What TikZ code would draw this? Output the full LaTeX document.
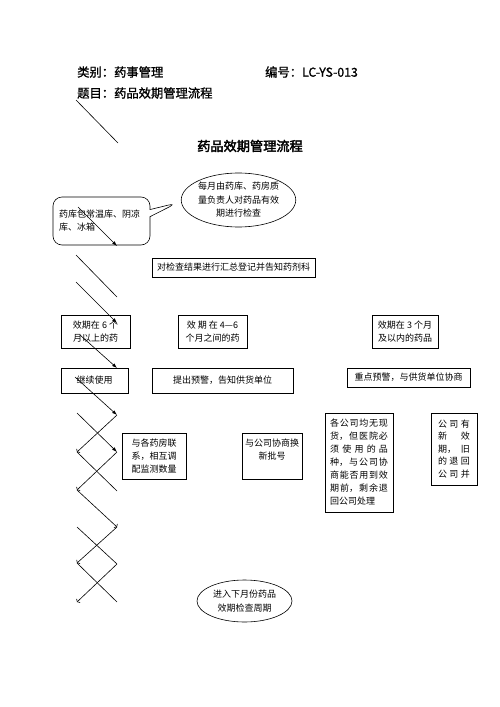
\documentclass[tikz,border=0pt]{standalone}
\usepackage{fontspec}
\newfontfamily\cjk{Noto Sans CJK SC}
\newfontfamily\cjkhead{Noto Sans CJK SC}[FakeBold=1.2]
\newfontfamily\cjkbold{Noto Sans CJK SC}[FakeBold=2.5]
\XeTeXlinebreaklocale "zh"
\XeTeXlinebreakskip=0pt plus 5pt
\usetikzlibrary{arrows.meta,shapes.geometric,shapes.callouts}

\begin{document}
\begin{tikzpicture}[x=1pt,y=-1pt]

    \tikzset{
      box/.style={
        draw,
        line width=0.6pt,
        inner sep=2pt,
        align=center,
        font=\cjk\fontsize{9}{13}\selectfont,
      },
      oval/.style={
        ellipse,
        draw,
        line width=0.6pt,
        inner sep=0pt,
        align=center,
        font=\cjk\fontsize{9}{13.5}\selectfont,
      },
      head/.style={anchor=west, inner sep=0pt, font=\cjkhead\fontsize{12.3}{15}\selectfont},
      stray/.style={line width=0.6pt},
      link/.style={line width=0.6pt, -{Latex[length=5pt,width=3.5pt]}},
      tick/.style={line width=0.6pt, -{Straight Barb[length=1.5pt,width=5pt]}},
    }
    \useasboundingbox (0,0) rectangle (500,707);

	\node[head] (kind) at (77,72) {类别：药事管理};
	\node[head] (code) at (265,72) {编号：LC-YS-013};
	\node[head] (topic) at (77,93) {题目：药品效期管理流程};
	\node[inner sep=0pt, font=\cjkbold\fontsize{13.2}{15}\selectfont] (title) at (250,146) {药品效期管理流程};
	\coordinate (h1) at (76,100);
	\coordinate (h2) at (118,143);
	\draw[stray] (h1)--(h2);

	\node[box, rectangle callout, rounded corners=9pt, callout absolute pointer={(177,203)}, minimum width=97pt, minimum height=48pt, text width=85pt, align=left] (store) at (101.5,221) {药库包常温库、阴凉\\库、冰箱};
	\node[oval, minimum width=113pt, minimum height=54pt] (check) at (238.5,200) {每月由药库、药房质\\量负责人对药品有效\\期进行检查};
	\node[box, minimum width=163pt, minimum height=19pt] (sum) at (233.5,267.5) {对检查结果进行汇总登记并告知药剂科};

	\node[box, minimum width=69pt, minimum height=33pt] (six) at (95.5,331.5) {效期在 6 个\\月以上的药};
	\node[box, minimum width=69pt, minimum height=33pt] (mid) at (212.5,331.5) {效\ 期\ 在\ 4—6\\个月之间的药};
	\node[box, minimum width=66pt, minimum height=33pt] (three) at (405,331.5) {效期在 3 个月\\及以内的药品};

	\node[box, minimum width=67pt, minimum height=25pt] (keep) at (94.5,380.5) {继续使用};
	\node[box, minimum width=141pt, minimum height=25pt] (warn) at (222.5,380.5) {提出预警，告知供货单位};
	\node[box, minimum width=123pt, minimum height=19pt] (alert) at (408.5,377.5) {重点预警，与供货单位协商};

	\node[box, minimum width=64pt, minimum height=46pt] (swap) at (154,456) {与各药房联\\系，相互调\\配监测数量};
	\node[box, minimum width=60pt, minimum height=46pt] (batch) at (272,456) {与公司协商换\\新批号\\\mbox{}};
	\node[box, minimum width=68pt, minimum height=99pt, text width=58pt, align=justify] (rest) at (359,462.5) {各公司均无现\linebreak 货，但医院必\linebreak 须使用的品\linebreak 种，与公司协\linebreak 商能否用到效\linebreak 期前，剩余退\linebreak 回公司处理};
	\node[box, minimum width=46pt, minimum height=72pt, text width=32pt, align=justify, font=\cjk\fontsize{9}{12.5}\selectfont] (back) at (454,449) {公司有\linebreak 新效\linebreak 期，旧\linebreak 的退回\linebreak 公\hfill 司\hfill 并};

	\node[oval, minimum width=95pt, minimum height=42pt] (next) at (244.5,601) {进入下月份药品\\效期检查周期};

	\coordinate (s0) at (78,207);
	\coordinate (r1) at (117,246);
	\coordinate (l2) at (76,255);
	\coordinate (r2) at (117,297);
	\coordinate (l3) at (76,282);
	\coordinate (r3) at (117,323);
	\coordinate (l4) at (80,335);
	\coordinate (r4) at (117,368);
	\coordinate (l5) at (75,377);
	\coordinate (r5) at (117,415);
	\coordinate (l6) at (77,413);
	\coordinate (r6) at (117,452);
	\coordinate (l7) at (77,452);
	\coordinate (r7) at (117,491);
	\coordinate (l8) at (77,490);
	\coordinate (r8) at (117,527);
	\coordinate (l9) at (77,527);
	\coordinate (r9) at (117,564);
	\coordinate (l10) at (77,563);
	\coordinate (r10) at (117,602);
	\coordinate (l11) at (77,602);
	\draw[link] (s0)--(r1);
	\draw[stray] (l2)--(r2);
	\draw[link] (l3)--(r3);
	\draw[link] (l4)--(r4);
	\draw[link] (l5)--(r5);
	\draw[link] (l6)--(r6);
	\draw[tick] (r5)--(l7);
	\draw[tick] (r6)--(l8);
	\draw[stray] (l7)--(r7);
	\draw[tick] (l8)--(r8);
	\draw[stray] (l9)--(r9);
	\draw[tick] (r8)--(l10);
	\draw[tick] (r9)--(l11);
	\draw[stray] (l10)--(r10);

\end{tikzpicture}
\end{document}
